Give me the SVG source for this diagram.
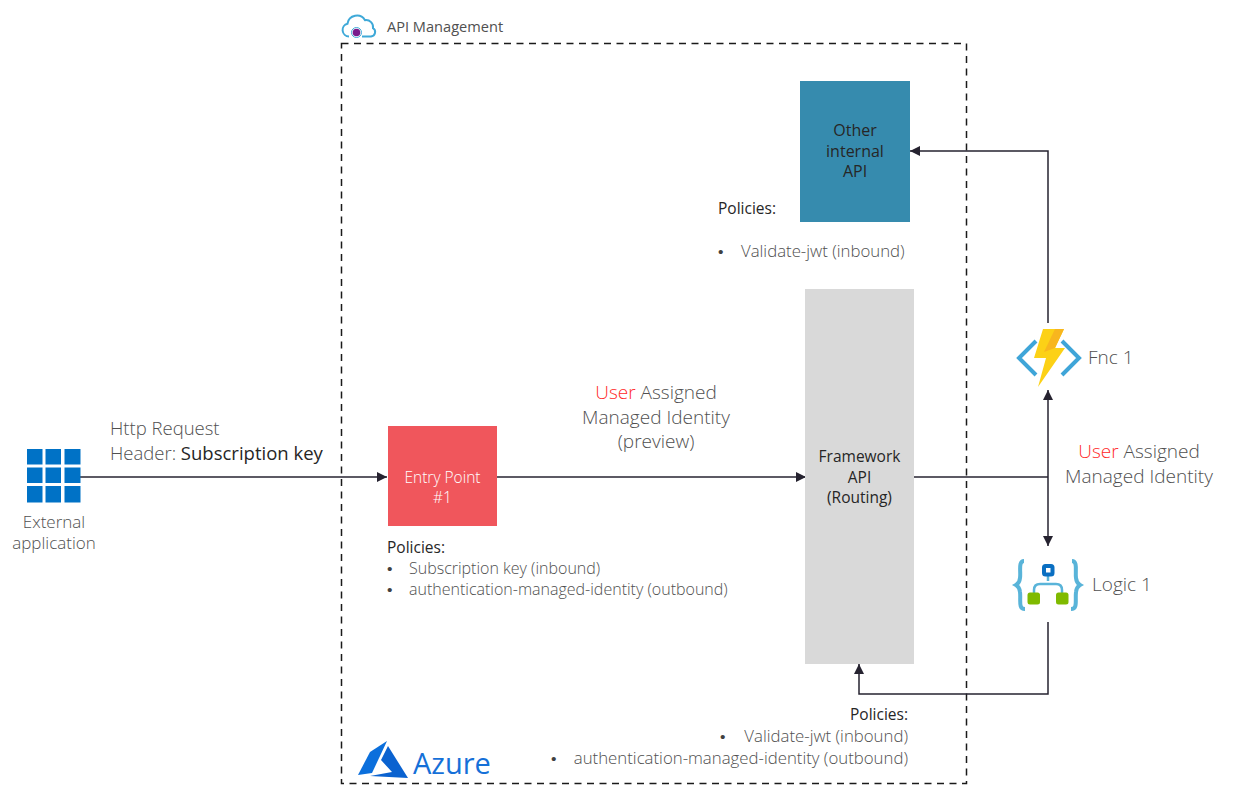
<svg xmlns="http://www.w3.org/2000/svg" width="1241" height="802" viewBox="0 0 1241 802">
<style>
text{font-family:"Open Sans","Noto Sans","Liberation Sans",sans-serif;fill:#505050;font-weight:300}
.s{font-size:15.500px}.p{font-size:16px}.q{font-size:16.800px}.e{font-size:17px}.l{font-size:19px}.h{font-size:18.500px}
.b{font-family:"Liberation Sans",sans-serif;font-weight:400;fill:#404040}
.d{fill:#262626;font-weight:400}.k{fill:#262626;font-weight:400}
.c{fill:none;stroke:#262330;stroke-width:1.500}
.mid{text-anchor:middle}.end{text-anchor:end}
</style>
<defs>
<marker id="a" markerUnits="userSpaceOnUse" markerWidth="11" markerHeight="10" refX="10" refY="5" orient="auto"><path d="M0 0L10 5L0 10Z" fill="#262330"/></marker>
</defs>
<rect x="0" y="0" width="1241" height="802" fill="#fff"/>
<g id="apim">
<rect x="341.500" y="43.500" width="625" height="740" fill="none" stroke="#1a1a1a" stroke-width="1.500" stroke-dasharray="7 5.500"/>
<path d="M349 36.500a6.500 6.500 0 0 1-1.500-12.800a9.500 9.500 0 0 1 17.500-3.500a7 7 0 0 1 8 8a4.500 4.500 0 0 1-2 8.300L362 36.500" fill="none" stroke="#3fa9d8" stroke-width="2"/>
<circle cx="356.500" cy="32.500" r="5" fill="#fff" stroke="#3fa9d8" stroke-width="1"/>
<circle cx="356.500" cy="32.500" r="3.800" fill="#7a1b8c"/>
<text x="387" y="31.500" font-size="14.600" style="font-weight:400">API Management</text>
</g>
<g id="azure">
<path d="M387 741L370 752L358 775L372 773Z" fill="#0b6fdc"/>
<path d="M388 746L381 760L392 772L370 776L408 778Z" fill="#0a62d0"/>
<text x="413" y="774" font-size="29" style="fill:#1570d8;font-weight:400">Azure</text>
</g>
<g id="connectors">
<path class="c" d="M80 477H387" marker-end="url(#a)"/>
<path class="c" d="M497 477H806" marker-end="url(#a)"/>
<path class="c" d="M914 477H1048"/>
<path class="c" d="M1048 477V390" marker-end="url(#a)"/>
<path class="c" d="M1048 477V546" marker-end="url(#a)"/>
<path class="c" d="M1048 323V151H910" marker-end="url(#a)"/>
<path class="c" d="M1048 622V694H859V664" marker-end="url(#a)"/>
</g>
<g id="external-app">
<g fill="#0072c6">
<rect x="27" y="449" width="15.500" height="15.500"/><rect x="45.500" y="449" width="15.500" height="15.500"/><rect x="64.500" y="449" width="16" height="15.500"/>
<rect x="27" y="467.500" width="15.500" height="15.500"/><rect x="45.500" y="467.500" width="15.500" height="15.500"/><rect x="64.500" y="467.500" width="16" height="15.500"/>
<rect x="27" y="486" width="15.500" height="16.500"/><rect x="45.500" y="486" width="15.500" height="16.500"/><rect x="64.500" y="486" width="16" height="16.500"/>
</g>
<text x="54" y="528" class="e mid">External</text>
<text x="54" y="549" class="e mid">application</text>
</g>
<g id="http-label">
<text x="110" y="435" class="h">Http Request</text>
<text x="110" y="460" class="h">Header: <tspan class="k">Subscription key</tspan></text>
</g>
<g id="entry-point">
<rect x="388" y="426" width="109" height="100" fill="#f0565c"/>
<text x="442.500" y="483" class="s mid" style="fill:#fff">Entry Point</text>
<text x="442.500" y="503" class="s mid" style="fill:#fff">#1</text>
<text x="387" y="553" class="s d">Policies:</text>
<text x="387" y="574" class="s b">•</text><text x="409" y="574" class="p">Subscription key (inbound)</text>
<text x="387" y="595" class="s b">•</text><text x="409" y="595" class="p">authentication-managed-identity (outbound)</text>
</g>
<g id="user-identity-1">
<text x="656" y="399" class="l mid"><tspan style="fill:#ff2a2a">User</tspan> Assigned</text>
<text x="656" y="424" class="l mid">Managed Identity</text>
<text x="656" y="448" class="l mid">(preview)</text>
</g>
<g id="other-api">
<rect x="800" y="81" width="110" height="141" fill="#368bae"/>
<text x="855" y="136" class="mid" font-size="16" style="fill:#262626;font-weight:400">Other</text>
<text x="855" y="157" class="mid" font-size="16" style="fill:#262626;font-weight:400">internal</text>
<text x="855" y="177" class="mid" font-size="16" style="fill:#262626;font-weight:400">API</text>
<text x="718" y="214" class="s d">Policies:</text>
<text x="718" y="257" class="s b">•</text><text x="741" y="257" class="q">Validate-jwt (inbound)</text>
</g>
<g id="framework-api">
<rect x="805" y="289" width="109" height="375" fill="#d9d9d9"/>
<text x="859.500" y="462" class="s mid" style="fill:#262626;font-weight:400">Framework</text>
<text x="859.500" y="483" class="s mid" style="fill:#262626;font-weight:400">API</text>
<text x="859.500" y="503" class="s mid" style="fill:#262626;font-weight:400">(Routing)</text>
<text x="908" y="720" class="s end d">Policies:</text>
<text x="720" y="742" class="s b">•</text><text x="908" y="742" class="q end">Validate-jwt (inbound)</text>
<text x="551" y="764" class="s b">•</text><text x="908" y="764" class="q end">authentication-managed-identity (outbound)</text>
</g>
<g id="fnc-1">
<path d="M1036 341L1019 358L1036 375" fill="none" stroke="#3fa5d8" stroke-width="4"/>
<path d="M1062 341L1079 358L1062 375" fill="none" stroke="#3fa5d8" stroke-width="4"/>
<path d="M1043 329L1064 329L1055 348L1065 348L1038 387L1046 358L1034 358Z" fill="#fcd116"/>
<path d="M1055 329L1064 329L1055 348L1044 352Z" fill="#f8b61e"/>
<text x="1088" y="364" class="l">Fnc 1</text>
</g>
<g id="user-identity-2">
<text x="1139" y="458" class="l mid"><tspan style="fill:#ff2a2a">User</tspan> Assigned</text>
<text x="1139" y="483" class="l mid">Managed Identity</text>
</g>
<g id="logic-1">
<path d="M1024 561C1018 561 1021 572 1020 578C1019.500 583 1016 585 1016 585C1016 585 1019.500 587 1020 592C1021 600 1018 609 1025 609" fill="none" stroke="#59b4d9" stroke-width="4"/>
<path d="M1072 561C1078 561 1075 572 1076 578C1076.500 583 1080 585 1080 585C1080 585 1076.500 587 1076 592C1075 600 1078 609 1071 609" fill="none" stroke="#59b4d9" stroke-width="4"/>
<path d="M1048 575V581M1034 594V590Q1034 584 1040 584H1056Q1062 584 1062 590V594" fill="none" stroke="#59b4d9" stroke-width="2.500"/>
<rect x="1044" y="566" width="8.500" height="8.500" rx="1.500" fill="#fff" stroke="#0a6fc2" stroke-width="4"/>
<rect x="1027.500" y="592.500" width="12.500" height="12" rx="2.500" fill="#7fba00"/>
<rect x="1056" y="592.500" width="12.500" height="12" rx="2.500" fill="#7fba00"/>
<text x="1092" y="591" class="l">Logic 1</text>
</g>
</svg>
